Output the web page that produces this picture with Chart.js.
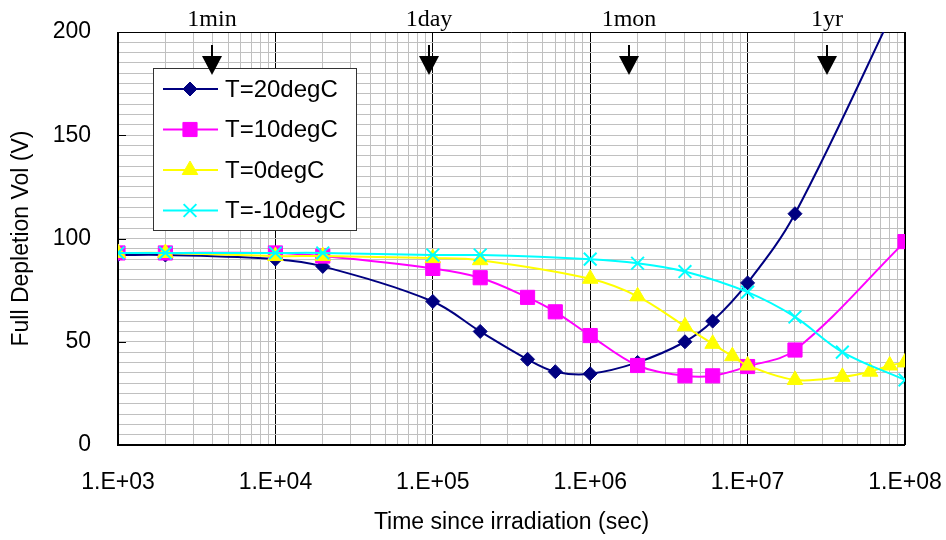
<!DOCTYPE html>
<html>
<head>
<meta charset="utf-8">
<title>Full depletion voltage vs time since irradiation</title>
<script src="https://cdn.jsdelivr.net/npm/chart.js@4.4.1/dist/chart.umd.min.js"></script>
<style>
  html, body { margin: 0; padding: 0; background: #fff; }
  #wrap { width: 946px; height: 540px; }
</style>
</head>
<body>
<div id="wrap"><canvas id="c" width="946" height="540"></canvas></div>
<script>
// Full depletion voltage annealing curves, one series per storage temperature.
const SERIES_NAMES = ["T=20degC", "T=10degC", "T=0degC", "T=-10degC"];

const T20_X = [1e3, 2e3, 1e4, 2e4, 1e5, 2e5, 4e5, 6e5, 1e6, 2e6, 4e6, 6e6, 1e7, 2e7, 1e8];
const T20_Y = [92, 92, 90, 86.5, 69.5, 55, 41.5, 35.5, 34.5, 40, 50, 60, 78.5, 112, 222];

const T10_X = [1e3, 2e3, 1e4, 2e4, 1e5, 2e5, 4e5, 6e5, 1e6, 2e6, 4e6, 6e6, 1e7, 2e7, 1e8];
const T10_Y = [93, 93, 93, 91.5, 85.5, 81, 71.5, 64.5, 53, 38.5, 33.5, 33.5, 38, 46, 98.5];

const T0_X = [1e3, 2e3, 1e4, 2e4, 1e5, 2e5, 1e6, 2e6, 4e6, 6e6, 8e6, 1e7, 2e7, 4e7, 6e7, 8e7, 1e8];
const T0_Y = [93, 93, 91.5, 91.5, 90.5, 89.5, 80.5, 72, 57.5, 49, 43, 38.5, 31.5, 33, 35.5, 38.5, 40];

const TM10_X = [1e3, 2e3, 1e4, 2e4, 1e5, 2e5, 1e6, 2e6, 4e6, 1e7, 2e7, 4e7, 1e8];
const TM10_Y = [93, 93, 93, 93, 92, 92, 90, 88, 84, 74, 62, 45, 31.5];

const X_DECADES = [1e3, 1e4, 1e5, 1e6, 1e7, 1e8];
const X_TICK_LABELS = ["1.E+03", "1.E+04", "1.E+05", "1.E+06", "1.E+07", "1.E+08"];
const Y_TICK_LABELS = ["0", "50", "100", "150", "200"];

// time markers along the top (seconds)
const MARK_X = [3950, 94600, 1.76e6, 3.19e7];
const MARK_LABELS = ["1min", "1day", "1mon", "1yr"];

const COLORS = ["#000080", "#ff00ff", "#ffff00", "#00ffff"];
const STYLES = [
  { pointStyle: "rectRot", radius: 7, bw: 1 },
  { pointStyle: "rect", radius: 10, bw: 1 },
  { pointStyle: "triangle", radius: 9, bw: 1 },
  { pointStyle: "crossRot", radius: 9, bw: 2 },
];

const pts = (xs, ys) => xs.map((x, i) => ({ x, y: ys[i] }));
const SANS = "'Liberation Sans', Arial, sans-serif";

const datasets = [pts(T20_X, T20_Y), pts(T10_X, T10_Y), pts(T0_X, T0_Y), pts(TM10_X, TM10_Y)].map((data, i) => ({
  label: SERIES_NAMES[i],
  data,
  order: 4 - i,
  borderColor: COLORS[i],
  backgroundColor: COLORS[i],
  borderWidth: 2,
  pointStyle: STYLES[i].pointStyle,
  pointRadius: STYLES[i].radius,
  pointBorderWidth: STYLES[i].bw,
  pointBackgroundColor: COLORS[i],
  pointBorderColor: COLORS[i],
  tension: 0.35,
}));

const overlay = {
  id: "overlay",
  beforeDatasetsDraw(chart) {
    const { ctx, chartArea: a } = chart;
    const y = chart.scales.y;
    ctx.save();
    ctx.strokeStyle = "#000";
    ctx.lineWidth = 1;
    ctx.beginPath();
    ctx.moveTo(a.left, a.top + 0.5); ctx.lineTo(a.right, a.top + 0.5);
    ctx.moveTo(a.right - 0.5, a.top); ctx.lineTo(a.right - 0.5, a.bottom);
    ctx.stroke();
    ctx.lineWidth = 2;
    ctx.beginPath();
    ctx.moveTo(a.left, a.top); ctx.lineTo(a.left, a.bottom);
    ctx.lineTo(a.right, a.bottom);
    ctx.stroke();
    ctx.lineWidth = 1;
    ctx.beginPath();
    Y_TICK_LABELS.forEach((t) => {
      const py = Math.round(y.getPixelForValue(+t)) + 0.5;
      ctx.moveTo(a.left, py); ctx.lineTo(a.left + 8, py);
    });
    ctx.stroke();
    ctx.restore();
  },
  afterDatasetsDraw(chart) {
    const { ctx } = chart;
    const x = chart.scales.x;
    ctx.save();
    // legend box
    const bx = 153, by = 68, bw = 203, bh = 162;
    ctx.fillStyle = "#fff";
    ctx.fillRect(bx, by, bw, bh);
    ctx.strokeStyle = "#333";
    ctx.lineWidth = 1;
    ctx.strokeRect(bx + 0.5, by + 0.5, bw, bh);
    ctx.font = "24px " + SANS;
    ctx.textBaseline = "middle";
    SERIES_NAMES.forEach((name, i) => {
      const ry = 89 + i * 40.5;
      ctx.strokeStyle = COLORS[i];
      ctx.fillStyle = COLORS[i];
      ctx.lineWidth = 2;
      ctx.beginPath();
      ctx.moveTo(163, ry); ctx.lineTo(218, ry);
      ctx.stroke();
      if (Chart.helpers && Chart.helpers.drawPoint) {
        ctx.lineWidth = STYLES[i].bw;
        Chart.helpers.drawPoint(ctx, { pointStyle: STYLES[i].pointStyle, radius: STYLES[i].radius, rotation: 0, borderWidth: STYLES[i].bw }, 190, ry);
      }
      ctx.fillStyle = "#000";
      ctx.fillText(name, 225, ry + 1);
    });
    // time markers
    ctx.fillStyle = "#000";
    ctx.strokeStyle = "#000";
    ctx.textAlign = "center";
    ctx.textBaseline = "alphabetic";
    ctx.font = "24px 'Liberation Serif', 'Times New Roman', serif";
    MARK_X.forEach((v, i) => {
      const px = Math.round(x.getPixelForValue(v));
      ctx.fillText(MARK_LABELS[i], px, 26);
      ctx.lineWidth = 2;
      ctx.beginPath();
      ctx.moveTo(px, 45); ctx.lineTo(px, 58);
      ctx.stroke();
      ctx.beginPath();
      ctx.moveTo(px - 10, 56); ctx.lineTo(px + 10, 56); ctx.lineTo(px, 75);
      ctx.closePath();
      ctx.fill();
    });
    ctx.restore();
  },
};

new Chart(document.getElementById("c"), {
  type: "line",
  data: { datasets },
  options: {
    responsive: false,
    animation: false,
    devicePixelRatio: 1,
    layout: { padding: { top: 32, right: 41, left: 0, bottom: 0 } },
    font: { family: SANS },
    plugins: { legend: { display: false }, tooltip: { enabled: false } },
    scales: {
      x: {
        type: "logarithmic",
        min: 1e3,
        max: 1e8,
        afterBuildTicks(scale) {
          const ticks = [];
          X_DECADES.forEach((d, i) => {
            if (i === X_DECADES.length - 1) { ticks.push({ value: d }); return; }
            for (let m = 1; m < 10; m++) ticks.push({ value: d * m });
          });
          scale.ticks = ticks;
        },
        afterFit(scale) {
          scale.height = 95;
          scale.paddingLeft = 0;
          scale.paddingRight = 0;
        },
        ticks: {
          autoSkip: false,
          maxRotation: 0,
          minRotation: 0,
          padding: 24,
          color: "#000",
          font: { size: 23, family: SANS },
          callback(v) {
            const i = X_DECADES.findIndex((d) => Math.abs(d - v) / d < 1e-9);
            return i >= 0 ? X_TICK_LABELS[i] : "";
          },
        },
        grid: {
          drawTicks: false,
          lineWidth: 1,
          color(c) {
            const v = c.tick && c.tick.value;
            return X_DECADES.some((d) => Math.abs(d - v) / d < 1e-9) ? "#000" : "#c0c0c0";
          },
        },
        border: { display: false },
        title: {
          display: true,
          text: "Time since irradiation (sec)",
          color: "#000",
          font: { size: 23, family: SANS },
          padding: { top: 0, bottom: 4 },
        },
      },
      y: {
        min: 0,
        max: 200,
        afterFit(scale) {
          scale.width = 118;
          scale.paddingTop = 0;
          scale.paddingBottom = 0;
        },
        ticks: {
          stepSize: 5,
          autoSkip: false,
          padding: 27,
          color: "#000",
          font: { size: 23, family: SANS },
          callback(v) {
            const s = String(v);
            return Y_TICK_LABELS.includes(s) ? s : "";
          },
        },
        grid: { drawTicks: false, lineWidth: 1, color: "#c0c0c0" },
        border: { display: false },
        title: {
          display: true,
          text: "Full Depletion Vol (V)",
          color: "#000",
          font: { size: 23, family: SANS },
          padding: { top: 8, bottom: 0 },
        },
      },
    },
  },
  plugins: [overlay],
});
</script>
</body>
</html>
